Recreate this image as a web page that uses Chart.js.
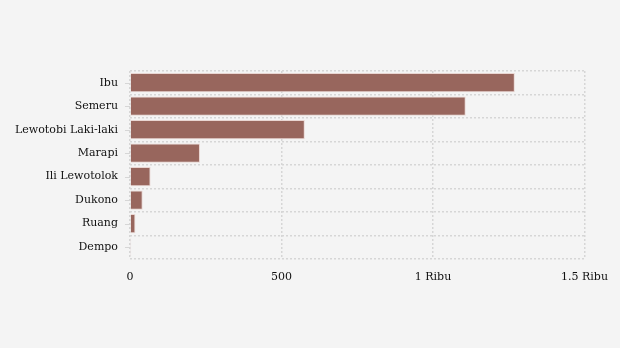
<!DOCTYPE html>
<html>
<head>
<meta charset="utf-8">
<script src="https://cdn.jsdelivr.net/npm/chart.js@4"></script>
<style>
  html, body { margin: 0; padding: 0; background: #f4f4f4; }
  #wrap { width: 620px; height: 348px; }
</style>
</head>
<body>
<div id="wrap"><canvas id="chart"></canvas></div>
<script>
const volcanoes = ["Ibu", "Semeru", "Lewotobi Laki-laki", "Marapi", "Ili Lewotolok", "Dukono", "Ruang", "Dempo"];
const eruptions = [1270, 1108, 577, 231, 68, 42, 18, 4];
const xTicks = [0, 500, 1000, 1500];
const xTickLabels = ["0", "500", "1 Ribu", "1.5 Ribu"];

const gridColor = "#d6d6d6";
const font = { family: "'DejaVu Serif', serif", size: 11 };

// small tick marks at each category label, left of the axis
const yTickMarks = {
  id: "yTickMarks",
  afterDraw(chart) {
    const ctx = chart.ctx;
    const y = chart.scales.y;
    ctx.save();
    ctx.strokeStyle = gridColor;
    ctx.lineWidth = 1;
    y.ticks.forEach((t, i) => {
      const py = Math.round(y.getPixelForTick(i)) + 0.5;
      ctx.beginPath();
      ctx.moveTo(y.right - 5, py);
      ctx.lineTo(y.right, py);
      ctx.stroke();
    });
    ctx.restore();
  }
};

new Chart(document.getElementById("chart"), {
  type: "bar",
  data: {
    labels: volcanoes,
    datasets: [{
      data: eruptions,
      backgroundColor: "#98665d",
      borderColor: "#e9d6d2",
      borderWidth: 1,
      barPercentage: 0.82,
      categoryPercentage: 1
    }]
  },
  options: {
    indexAxis: "y",
    responsive: true,
    maintainAspectRatio: false,
    animation: false,
    layout: { padding: { top: 71, right: 35, bottom: 52, left: 3 } },
    plugins: { legend: { display: false }, tooltip: { enabled: false } },
    scales: {
      x: {
        min: 0,
        max: 1500,
        afterBuildTicks: (scale) => { scale.ticks = xTicks.map(v => ({ value: v })); },
        ticks: {
          color: "#111",
          font: font,
          padding: 12,
          callback: (v) => xTickLabels[xTicks.indexOf(v)]
        },
        grid: { color: gridColor, drawTicks: false, lineWidth: 1.5 },
        border: { display: false, dash: [2, 2] }
      },
      y: {
        ticks: { color: "#111", font: font, padding: 12 },
        grid: { color: gridColor, offset: true, drawTicks: false, lineWidth: 1.5 },
        border: { display: false, dash: [2, 2] }
      }
    }
  },
  plugins: [yTickMarks]
});
</script>
</body>
</html>
